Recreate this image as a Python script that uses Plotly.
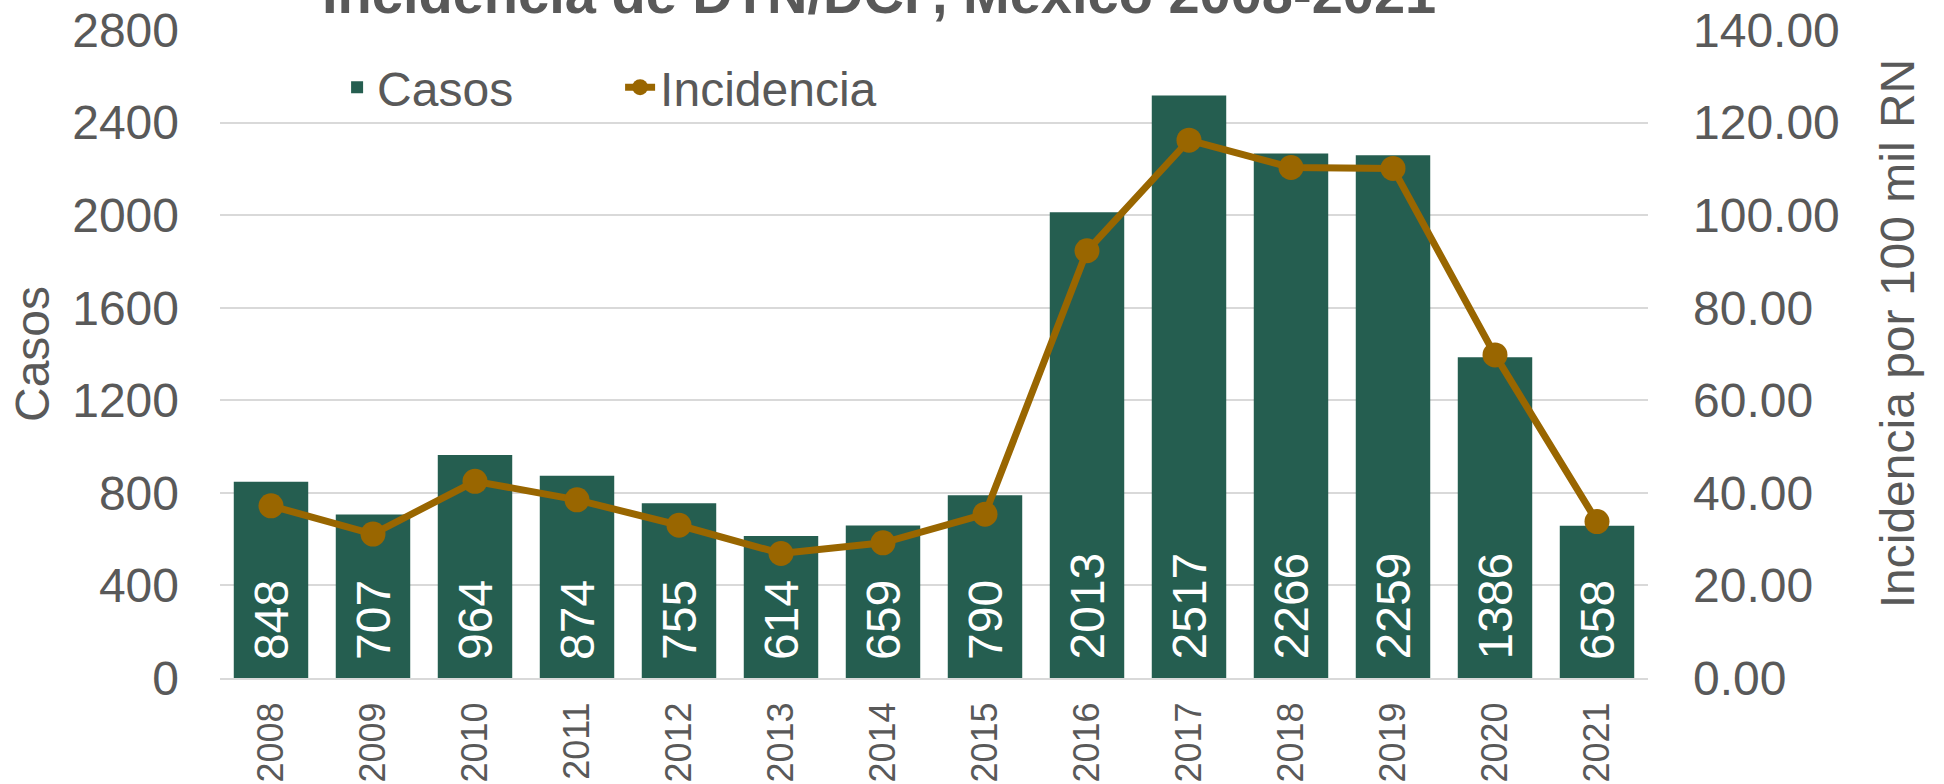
import plotly.graph_objects as go

years = ["2008", "2009", "2010", "2011", "2012", "2013", "2014",
         "2015", "2016", "2017", "2018", "2019", "2020", "2021"]
casos = [848, 707, 964, 874, 755, 614, 659, 790, 2013, 2517, 2266, 2259, 1386, 658]
incidencia = [37.2, 31.1, 42.5, 38.5, 33.0, 26.9, 29.2, 35.4,
              92.3, 116.2, 110.3, 110.1, 69.8, 33.8]

left_ticks = [0, 400, 800, 1200, 1600, 2000, 2400, 2800]
right_ticks = [0, 20, 40, 60, 80, 100, 120, 140]

BAR = "#255E50"
LINE = "#996600"
GRAY = "#595959"
FONT = "Liberation Sans, Arial, sans-serif"

fig = go.Figure()
fig.add_trace(go.Bar(
    x=years, y=casos, name="Casos", marker_color=BAR,
    marker_line_width=0, yaxis="y",
))
fig.add_trace(go.Scatter(
    x=years, y=incidencia, name="Incidencia", mode="lines+markers",
    line=dict(color=LINE, width=7), marker=dict(color=LINE, size=25),
    yaxis="y2",
))

annotations = []
for i, c in enumerate(casos):
    annotations.append(dict(
        x=i, y=0, xref="x", yref="y", text=str(c), textangle=-90,
        showarrow=False, yanchor="bottom", xanchor="center", yshift=16,
        font=dict(family=FONT, size=48, color="white"),
    ))
# chart title (cut off at the top edge, as in the original)
annotations.append(dict(
    x=0.4615, y=1.005, xref="paper", yref="paper", xanchor="center",
    yanchor="bottom", showarrow=False,
    text="<b>Incidencia de DTN/DCF, México 2008-2021</b>",
    font=dict(family=FONT, size=56, color=GRAY),
))
# right axis title
annotations.append(dict(
    x=1.1744, y=0.532, xref="paper", yref="paper", xanchor="center",
    yanchor="middle", showarrow=False, textangle=-90,
    text="Incidencia por 100 mil RN",
    font=dict(family=FONT, size=48, color=GRAY),
))

fig.update_layout(
    width=1944, height=784,
    margin=dict(l=220, r=296, t=30, b=106, pad=0, autoexpand=False),
    paper_bgcolor="white", plot_bgcolor="white",
    bargap=0.27,
    font=dict(family=FONT, color=GRAY, size=48),
    showlegend=True,
    legend=dict(orientation="h", x=0.082, y=0.97, xanchor="left", yanchor="top",
                entrywidth=238, entrywidthmode="pixels",
                font=dict(family=FONT, size=48, color=GRAY),
                bgcolor="rgba(0,0,0,0)"),
    xaxis=dict(type="category", range=[-0.5, len(years) - 0.5], autorange=False,
               automargin=False, ticklabeloverflow="allow",
               tickangle=-90, showgrid=False, ticklabelstandoff=8,
               tickfont=dict(family=FONT, size=36, color=GRAY),
               showline=True, linecolor="#D9D9D9", linewidth=2, ticks=""),
    yaxis=dict(range=[0, 2800], tickvals=left_ticks, showgrid=True,
               automargin=False, ticklabeloverflow="allow",
               gridcolor="#D9D9D9", gridwidth=2, zeroline=False,
               tickfont=dict(family=FONT, size=48, color=GRAY),
               ticklabelstandoff=40,
               title=dict(text="Casos", font=dict(family=FONT, size=48, color=GRAY),
                          standoff=7)),
    yaxis2=dict(range=[0, 140], tickvals=right_ticks, tickformat=".2f",
                automargin=False, ticklabeloverflow="allow",
                overlaying="y", side="right", showgrid=False, zeroline=False,
                tickfont=dict(family=FONT, size=48, color=GRAY),
                ticklabelstandoff=44),
    annotations=annotations,
)

fig.write_html("out.html", config={"displayModeBar": False},
               post_script="document.body.style.margin='0';")
